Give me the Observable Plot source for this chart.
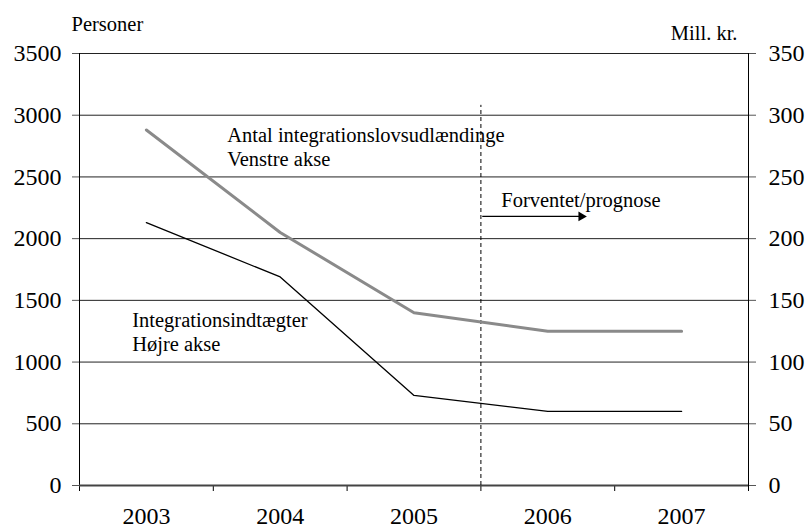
<!DOCTYPE html>
<html>
<head>
<meta charset="utf-8">
<script src="https://cdn.jsdelivr.net/npm/d3@7"></script>
<script src="https://cdn.jsdelivr.net/npm/@observablehq/plot@0.6"></script>
<style>
  html, body { margin: 0; padding: 0; background: #fff; }
  #chart svg, #chart svg text { font-family: "Liberation Serif", "Times New Roman", serif !important; }
</style>
</head>
<body>
<div id="chart"></div>
<script>
// Data
const years = [2003, 2004, 2005, 2006, 2007];
const personer = [2880, 2050, 1400, 1250, 1250];          // left axis (Personer)
const indtaegter = [213, 169, 73, 60, 60];                // right axis (Mill. kr.)
const leftTicks = [0, 500, 1000, 1500, 2000, 2500, 3000, 3500];
const rightFactor = 10; // 350 mill. kr. <-> 3500 personer
const forecastStart = 2005.5;
const forecastLineTop = 3080;

const annotations = [
  {x: 2003.604, y: 2926, text: "Antal integrationslovsudlændinge\nVenstre akse"},
  {x: 2002.894, y: 1429, text: "Integrationsindtægter\nHøjre akse"},
  {x: 2005.652, y: 2399, text: "Forventet/prognose"}
];
const arrowSpec = {x1: 2005.51, x2: 2006.25, y: 2180};

const boundaries = [years[0] - 0.5, ...years.map(y => y + 0.5)];
const seriesP = years.map((y, i) => ({year: y, value: personer[i]}));
const seriesI = years.map((y, i) => ({year: y, value: indtaegter[i] * rightFactor}));

const FONT = "Liberation Serif";

const chart = Plot.plot({
  width: 807,
  height: 528,
  marginLeft: 79,
  marginRight: 59,
  marginTop: 53,
  marginBottom: 43,
  style: {fontFamily: FONT, fontSize: "24px", color: "#000", background: "#fff"},
  x: {type: "linear", domain: [boundaries[0], boundaries[boundaries.length - 1]]},
  y: {domain: [0, 3500]},
  marks: [
    Plot.gridY(leftTicks, {stroke: "#222", strokeOpacity: 1, strokeWidth: 1}),
    Plot.axisY({anchor: "left", ticks: leftTicks, tickSize: 7, tickPadding: 11, label: null, stroke: "#555", fontFamily: FONT, fontSize: 24, tickFormat: d => String(d)}),
    Plot.axisY({anchor: "right", ticks: leftTicks, tickSize: 7, tickPadding: 13, label: null, stroke: "#555", fontFamily: FONT, fontSize: 24, tickFormat: d => String(d / rightFactor)}),
    Plot.axisX({ticks: boundaries, tickSize: 6, tickFormat: () => "", label: null, stroke: "#000"}),
    Plot.axisX({ticks: years, tickSize: 0, tickPadding: 21, fontFamily: FONT, fontSize: 24, tickFormat: d => String(d), label: null}),
    Plot.ruleX([boundaries[0], boundaries[boundaries.length - 1]], {stroke: "#000", strokeWidth: 1}),
    Plot.ruleY([0], {stroke: "#444", strokeWidth: 2.2}),
    Plot.ruleX([forecastStart], {y1: 0, y2: forecastLineTop, stroke: "#000", strokeWidth: 1, strokeDasharray: "4,3"}),
    Plot.line(seriesP, {x: "year", y: "value", stroke: "#8a8a8a", strokeWidth: 3}),
    Plot.line(seriesI, {x: "year", y: "value", stroke: "#000", strokeWidth: 1.3}),
    Plot.link([arrowSpec], {x1: "x1", x2: "x2", y1: "y", y2: "y", stroke: "#000", strokeWidth: 1.2}),
    Plot.dot([arrowSpec], {x: "x2", y: "y", symbol: "triangle", rotate: 90, r: 3.6, fill: "#000", stroke: "none"}),
    Plot.text(annotations, {x: "x", y: "y", text: "text", textAnchor: "start", lineAnchor: "top", lineHeight: 1.2, fontFamily: FONT, fontSize: 20.5, fill: "#000"}),
    Plot.text(["Personer"], {frameAnchor: "top-left", textAnchor: "start", lineAnchor: "top", dx: -8, dy: -36.6, fontFamily: FONT, fontSize: 20.5, fill: "#000"}),
    Plot.text(["Mill. kr."], {frameAnchor: "top-right", textAnchor: "end", lineAnchor: "top", dx: -11, dy: -27.6, fontFamily: FONT, fontSize: 20.5, fill: "#000"})
  ]
});
document.getElementById("chart").appendChild(chart);
</script>
</body>
</html>
